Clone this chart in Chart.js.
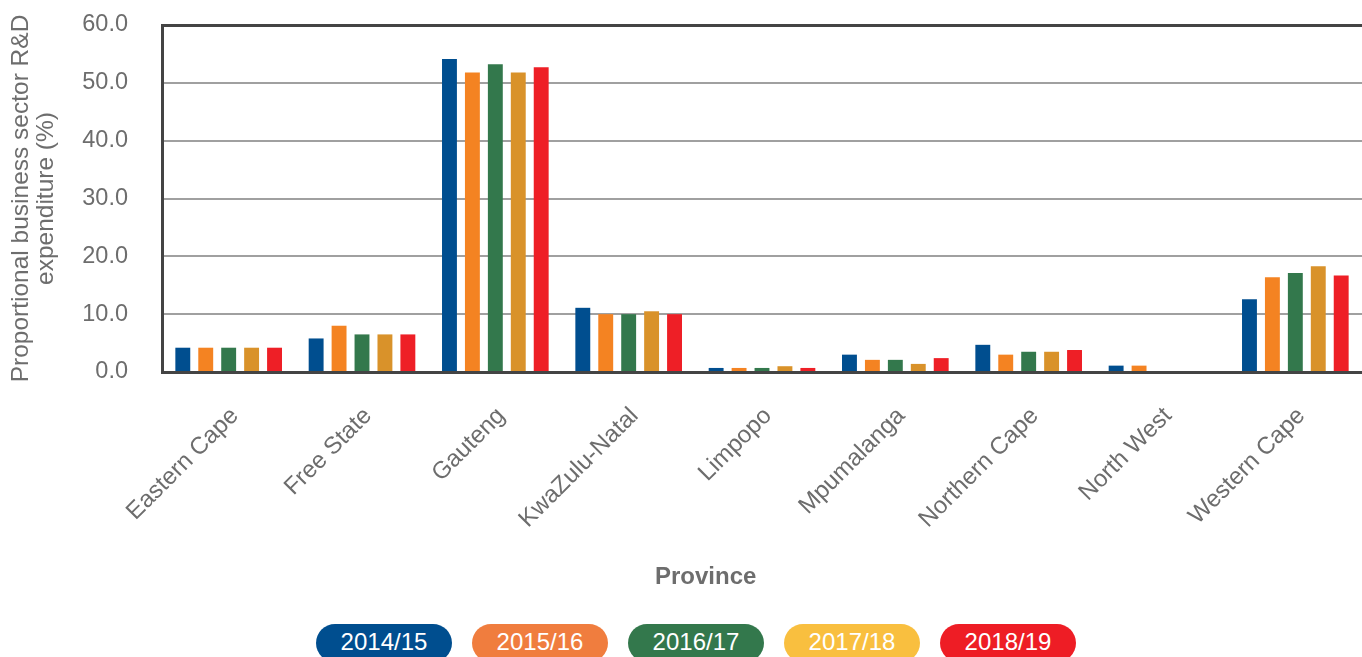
<!DOCTYPE html>
<html lang="en">
<head>
  <meta charset="UTF-8">
  <title>Business sector R&amp;D expenditure by province</title>
  <script src="https://cdn.jsdelivr.net/npm/chart.js"></script>
  <style>
    html, body {
      margin: 0;
      padding: 0;
      width: 1362px;
      height: 657px;
      overflow: hidden;
      background: #fff;
      font-family: "Liberation Sans", Arial, sans-serif;
    }
    .chart-box {
      position: absolute;
      left: 0;
      top: 0;
      width: 1362px;
      height: 592px;
    }
    /* x axis title sits left of the plot centre in the reference */
    .x-title {
      position: absolute;
      left: 655px;
      top: 562px;
      width: 101px;
      text-align: center;
      font-size: 24px;
      font-weight: bold;
      color: #6d6d6d;
    }
    /* pill legend under the chart */
    .legend {
      position: absolute;
      top: 624px;
      left: 316px;
      display: flex;
      gap: 20px;
    }
    .legend span {
      display: block;
      width: 136px;
      height: 38px;
      line-height: 36px;
      border-radius: 19px;
      color: #fff;
      text-align: center;
      font-size: 24px;
    }
  </style>
</head>
<body>
  <div class="chart-box">
    <canvas id="rdChart" width="1362" height="592"></canvas>
  </div>
  <div class="x-title">Province</div>
  <div class="legend" id="legend"></div>

  <script>
    // data
    const provinces = ['Eastern Cape', 'Free State', 'Gauteng', 'KwaZulu-Natal', 'Limpopo',
                       'Mpumalanga', 'Northern Cape', 'North West', 'Western Cape'];
    const years = ['2014/15', '2015/16', '2016/17', '2017/18', '2018/19'];

    const y2014 = [4.2, 5.8, 54.1, 11.1, 0.7, 3.0, 4.7, 1.1, 12.6];
    const y2015 = [4.2, 8.0, 51.8, 10.0, 0.7, 2.1, 3.0, 1.1, 16.4];
    const y2016 = [4.2, 6.5, 53.2, 10.0, 0.7, 2.1, 3.5, null, 17.1];
    const y2017 = [4.2, 6.5, 51.8, 10.5, 1.0, 1.4, 3.5, null, 18.3];
    const y2018 = [4.2, 6.5, 52.7, 10.0, 0.7, 2.4, 3.8, null, 16.7];

    const yTicks = [0, 10, 20, 30, 40, 50, 60];

    const barColors = ['#004e8f', '#f48322', '#33784c', '#d9922a', '#ee1f26'];
    const legendColors = ['#004e8f', '#f07d3e', '#33784c', '#f9bf3f', '#ee1d25'];

    const series = [y2014, y2015, y2016, y2017, y2018];

    const gray = '#6d6d6d';
    const dark = '#444';
    const font = { family: '"Liberation Sans", Arial, sans-serif', size: 24 };

    new Chart(document.getElementById('rdChart'), {
      type: 'bar',
      data: {
        labels: provinces,
        datasets: series.map((vals, i) => ({
          label: years[i],
          data: vals,
          backgroundColor: barColors[i],
          categoryPercentage: 0.86,
          barPercentage: 0.65
        }))
      },
      options: {
        responsive: false,
        animation: false,
        layout: { padding: { top: 25, right: 0, left: 0, bottom: 0 } },
        plugins: {
          legend: { display: false },
          tooltip: { enabled: false }
        },
        scales: {
          x: {
            grid: { display: false, drawTicks: false },
            border: { color: dark, width: 3 },
            ticks: {
              color: gray,
              font: font,
              maxRotation: 45,
              minRotation: 45,
              padding: 30,
              labelOffset: 6
            },
            afterFit: (scale) => { scale.height = 220; }
          },
          y: {
            min: 0,
            max: 60,
            afterBuildTicks: (scale) => { scale.ticks = yTicks.map(v => ({ value: v })); },
            grid: {
              // top line of the plot box is dark like the axes
              color: (c) => c.tick && c.tick.value === 60 ? dark : '#a0a0a0',
              lineWidth: (c) => c.tick && c.tick.value === 60 ? 3 : 2,
              drawTicks: false
            },
            border: { color: dark, width: 3 },
            ticks: {
              color: gray,
              font: { family: font.family, size: 23.5 },
              padding: 34,
              callback: (v) => Number(v).toFixed(1)
            },
            title: {
              display: true,
              text: ['Proportional business sector R&D', 'expenditure (%)'],
              color: gray,
              font: { family: font.family, size: 24.5, lineHeight: 1.05 },
              padding: { top: 8, bottom: 0 }
            },
            afterFit: (scale) => {
              scale.width = 162;
              scale.paddingTop = 0;
              scale.paddingBottom = 0;
            }
          }
        }
      }
    });

    // legend pills
    const legend = document.getElementById('legend');
    years.forEach((y, i) => {
      const pill = document.createElement('span');
      pill.textContent = y;
      pill.style.background = legendColors[i];
      legend.appendChild(pill);
    });
  </script>
</body>
</html>
